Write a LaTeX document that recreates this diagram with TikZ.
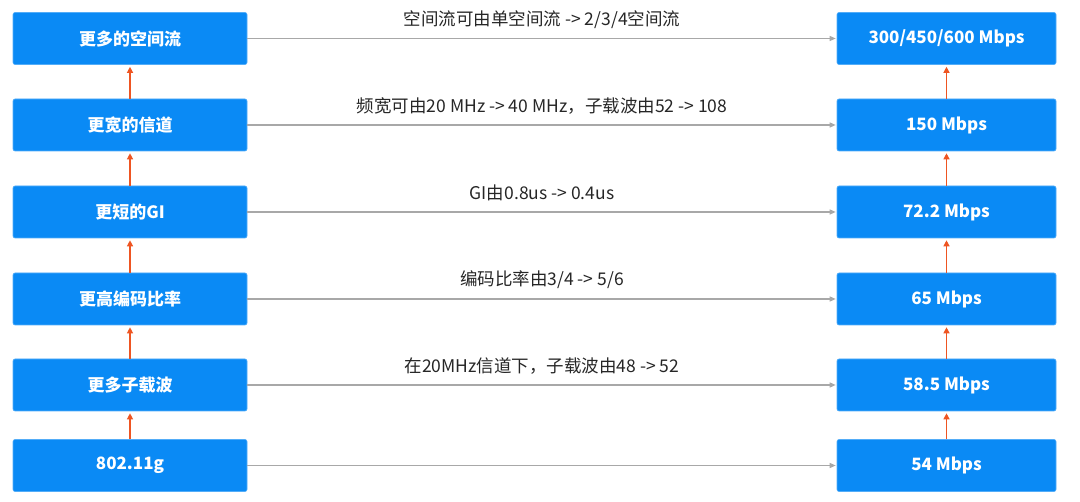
\documentclass[tikz,border=0pt]{standalone}
\usepackage{fontspec}
\setmainfont{Noto Sans CJK SC}
\usetikzlibrary{arrows.meta}

\definecolor{boxblue}{HTML}{0A8AF5}
\definecolor{uporange}{HTML}{EE5522}
\definecolor{linegray}{HTML}{A8A8A8}

\tikzset{
  ratebox/.style={fill=boxblue, draw=boxblue!70!white, line width=0.6pt,
    rounded corners=2pt, minimum height=52pt, inner sep=0pt,
    text=white, font=\fontsize{17}{20}\selectfont\bfseries},
  featbox/.style={ratebox, minimum width=234pt},
  speedbox/.style={ratebox, minimum width=219pt},
  steparrow/.style={-{Triangle[length=6pt,width=6pt]}, uporange, line width=1.2pt, shorten >=2pt},
  gainarrow/.style={-{Triangle[length=6pt,width=5pt]}, linegray, line width=1.2pt, shorten >=1pt},
  gainlabel/.style={midway, yshift=19pt, text=black!85, font=\fontsize{17.5}{20}\selectfont},
}

\begin{document}
\begin{tikzpicture}[x=1pt, y=-1pt]
  \useasboundingbox (0,0) rectangle (1080,502);

  % Columna izquierda: mejoras
  \node[featbox] (feat1) at (130,38.5) {更多的空间流};
  \node[featbox] (feat2) at (130,125) {更宽的信道};
  \node[featbox] (feat3) at (130,212) {更短的GI};
  \node[featbox] (feat4) at (130,299) {更高编码比率};
  \node[featbox] (feat5) at (130,385) {更多子载波};
  \node[featbox] (feat6) at (130,465.5) {802.11g};

  % Columna derecha: velocidades
  \node[speedbox] (speed1) at (946.5,38.5) {300/450/600 Mbps};
  \node[speedbox] (speed2) at (946.5,125) {150 Mbps};
  \node[speedbox] (speed3) at (946.5,212) {72.2 Mbps};
  \node[speedbox] (speed4) at (946.5,299) {65 Mbps};
  \node[speedbox] (speed5) at (946.5,385) {58.5 Mbps};
  \node[speedbox] (speed6) at (946.5,465.5) {54 Mbps};

  % Flechas hacia arriba (izquierda)
  \draw[steparrow] (feat6) -- (feat5);
  \draw[steparrow] (feat5) -- (feat4);
  \draw[steparrow] (feat4) -- (feat3);
  \draw[steparrow] (feat3) -- (feat2);
  \draw[steparrow] (feat2) -- (feat1);

  % Flechas hacia arriba (derecha)
  \draw[steparrow] (speed6) -- (speed5);
  \draw[steparrow] (speed5) -- (speed4);
  \draw[steparrow] (speed4) -- (speed3);
  \draw[steparrow] (speed3) -- (speed2);
  \draw[steparrow] (speed2) -- (speed1);

  % Flechas horizontales con su texto
  \draw[gainarrow] (feat1) -- (speed1) node[gainlabel] (gain1) {空间流可由单空间流 -> 2/3/4空间流};
  \draw[gainarrow] (feat2) -- (speed2) node[gainlabel] (gain2) {频宽可由20 MHz -> 40 MHz，子载波由52 -> 108};
  \draw[gainarrow] (feat3) -- (speed3) node[gainlabel] (gain3) {GI由0.8us -> 0.4us};
  \draw[gainarrow] (feat4) -- (speed4) node[gainlabel] (gain4) {编码比率由3/4 -> 5/6};
  \draw[gainarrow] (feat5) -- (speed5) node[gainlabel] (gain5) {在20MHz信道下，子载波由48 -> 52};
  \draw[gainarrow] (feat6) -- (speed6);
\end{tikzpicture}
\end{document}
